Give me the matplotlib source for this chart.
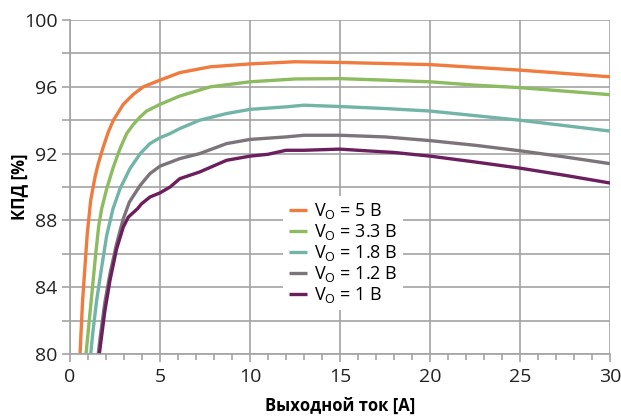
import matplotlib.pyplot as plt
from matplotlib.ticker import MultipleLocator

plt.rcParams['font.family'] = ['Open Sans', 'DejaVu Sans']

# data (output current [A], efficiency [%])
i_5v = [0.56, 0.61, 0.70, 0.83, 0.96, 1.15, 1.39, 1.57, 1.85, 2.13, 2.41, 2.96, 3.52, 4.07, 5, 6.1, 7.8,
        10, 12.5, 15, 20, 25, 30]
eff_5v = [80, 81.2, 83.2, 85.2, 87.2, 89.2, 90.6, 91.4, 92.4, 93.3, 94.0, 94.95, 95.55, 96.0, 96.4, 96.85, 97.2,
          97.37, 97.5, 97.46, 97.33, 97.0, 96.6]

i_33v = [0.89, 1.07, 1.25, 1.43, 1.60, 1.76, 2.04, 2.41, 2.78, 3.15, 3.52, 3.9, 4.26, 5, 6.1, 7.8,
         10, 12.5, 15, 17.5, 20, 22.5, 25, 30]
eff_33v = [80, 82, 84, 86, 87.7, 88.7, 89.9, 91.2, 92.3, 93.2, 93.75, 94.2, 94.55, 94.95, 95.45, 96.0,
           96.3, 96.47, 96.49, 96.4, 96.3, 96.1, 95.95, 95.53]

i_18v = [1.15, 1.26, 1.48, 1.76, 2.04, 2.39, 2.78, 3.33, 3.9, 4.44, 5, 5.56, 6.1, 7.2, 8.7,
         10, 12, 13, 15, 17.5, 20, 25, 30]
eff_18v = [80, 81.2, 83.2, 85.2, 87.1, 88.7, 89.9, 91.1, 92.0, 92.6, 92.95, 93.2, 93.5, 94.0, 94.4,
           94.65, 94.8, 94.9, 94.82, 94.7, 94.55, 94.0, 93.35]

i_12v = [1.57, 1.7, 1.94, 2.22, 2.59, 2.96, 3.3, 3.9, 4.44, 5, 6.1, 7.2, 8.7,
         10, 12, 13, 15, 17.5, 20, 22.5, 25, 27.5, 30]
eff_12v = [80, 81.2, 83.1, 84.8, 86.6, 88.1, 89.1, 90.1, 90.8, 91.25, 91.7, 92.0, 92.6,
           92.85, 93.0, 93.1, 93.1, 93.0, 92.78, 92.5, 92.17, 91.8, 91.4]

i_1v = [1.63, 1.7, 1.94, 2.22, 2.59, 2.96, 3.24, 3.75, 3.98, 4.44, 5, 5.56, 6.1, 7.2, 8.7,
        10, 11, 12, 13, 15, 16, 18, 20, 22.5, 25, 27.5, 30]
eff_1v = [80, 80.6, 82.6, 84.4, 86.3, 87.6, 88.2, 88.7, 89.0, 89.4, 89.65, 90.0, 90.5, 90.9, 91.6,
          91.85, 91.96, 92.2, 92.2, 92.27, 92.2, 92.07, 91.85, 91.5, 91.13, 90.7, 90.24]

labels = ['V$_\\mathregular{O}$ = 5 В', 'V$_\\mathregular{O}$ = 3.3 В', 'V$_\\mathregular{O}$ = 1.8 В',
          'V$_\\mathregular{O}$ = 1.2 В', 'V$_\\mathregular{O}$ = 1 В']
colors = ['#EF7B3E', '#8DBB5F', '#72B4A7', '#7C7479', '#6B1F5C']

fig = plt.figure(figsize=(6.21, 4.17), dpi=100)
ax = fig.add_axes([0.1127, 0.151, 0.8696, 0.801])

series = [(i_5v, eff_5v), (i_33v, eff_33v), (i_18v, eff_18v), (i_12v, eff_12v), (i_1v, eff_1v)]
for (x, y), lab, c in zip(series, labels, colors):
    ax.plot(x, y, color=c, lw=2.4, label=lab, solid_capstyle='butt', solid_joinstyle='round')

ax.set_xlim(0, 30)
ax.set_ylim(80, 100)
ax.xaxis.set_major_locator(MultipleLocator(5))
ax.xaxis.set_minor_locator(MultipleLocator(1))
ax.yaxis.set_major_locator(MultipleLocator(4))
ax.yaxis.set_minor_locator(MultipleLocator(2))

gc = '#A3A3A3'
ax.grid(True, which='both', color=gc, lw=1.2)
ax.grid(False, axis='x', which='minor')
ax.set_axisbelow(True)
for s in ['top', 'right']:
    ax.spines[s].set_visible(False)
for s in ['left', 'bottom']:
    ax.spines[s].set_color(gc)
    ax.spines[s].set_linewidth(1.2)
ax.tick_params(axis='both', which='both', color=gc, width=1.2, labelsize=14, labelcolor='#222222')
ax.tick_params(axis='x', which='major', length=6, pad=4)
ax.tick_params(axis='x', which='minor', length=4)
ax.tick_params(axis='y', which='both', length=6, pad=3)

ax.set_xlabel('Выходной ток [А]', fontsize=12, fontweight='bold', labelpad=8)
ax.set_ylabel('КПД [%]', fontsize=12, fontweight='bold')
ax.yaxis.set_label_coords(-0.078, 0.5)

leg = ax.legend(loc='upper left', bbox_to_anchor=(0.378, 0.50), frameon=True, fontsize=13,
                handlelength=1.0, handletextpad=0.4, labelspacing=0.05, borderpad=0.3)
leg.get_frame().set_edgecolor('none')
leg.get_frame().set_facecolor('white')
leg.get_frame().set_alpha(1)

fig.savefig('out.png', dpi=100)
